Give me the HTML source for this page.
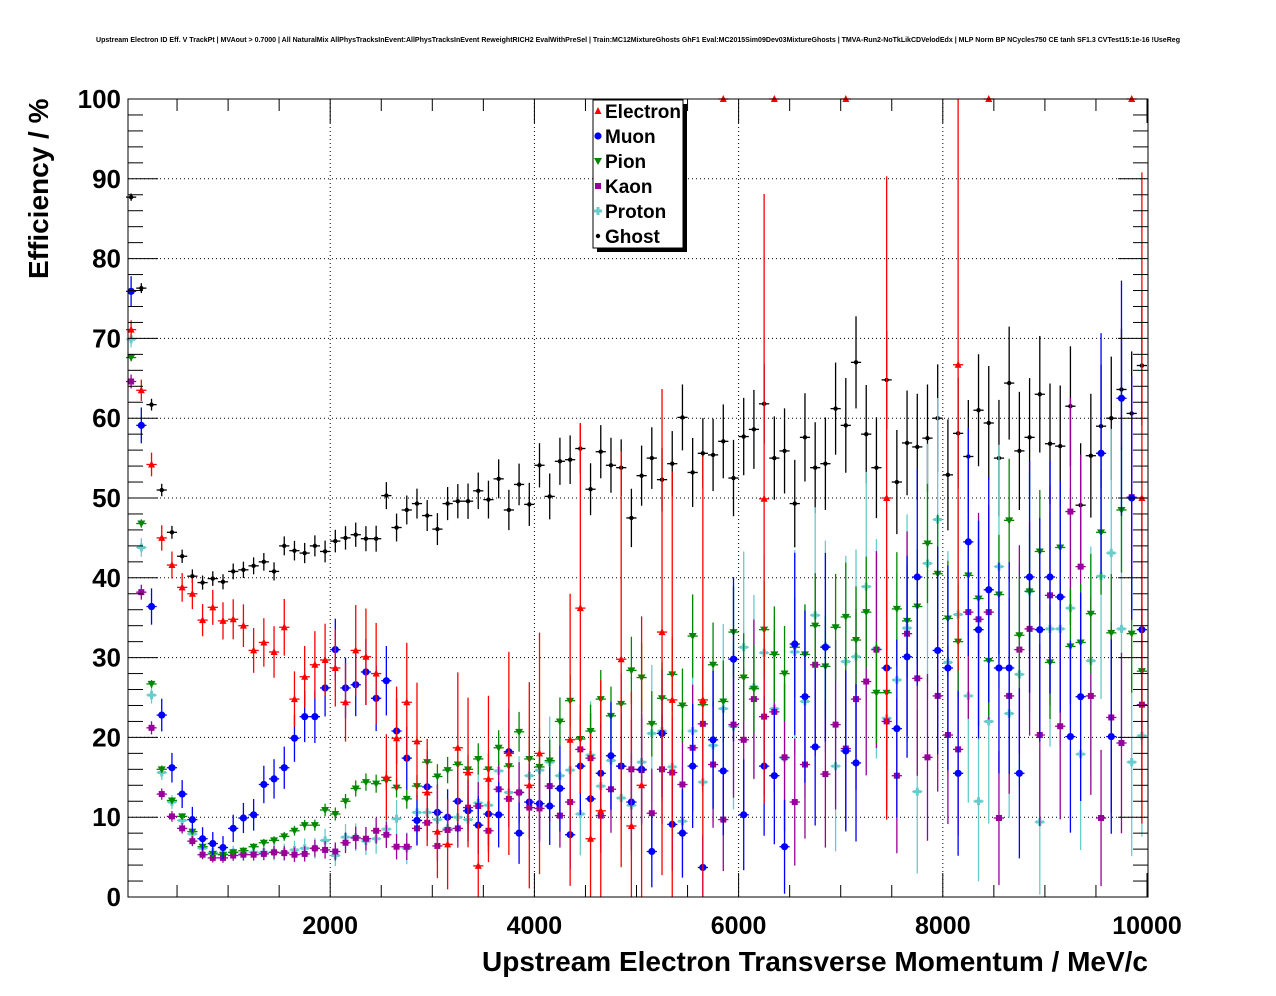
<!DOCTYPE html>
<html><head><meta charset="utf-8">
<style>
html,body{margin:0;padding:0;background:#fff;}
svg{display:block;font-family:"Liberation Sans",Arial,sans-serif;}
</style></head>
<body>
<svg id="chart" width="1276" height="996" viewBox="0 0 1276 996">
<rect x="0" y="0" width="1276" height="996" fill="#fff"/>
<text x="638" y="42" font-size="7.2" font-weight="bold" text-anchor="middle" textLength="1084" lengthAdjust="spacingAndGlyphs">Upstream Electron ID Eff. V TrackPt | MVAout &gt; 0.7000 | All NaturalMix AllPhysTracksInEvent:AllPhysTracksInEvent ReweightRICH2 EvalWithPreSel | Train:MC12MixtureGhosts GhF1 Eval:MC2015Sim09Dev03MixtureGhosts | TMVA-Run2-NoTkLikCDVelodEdx | MLP Norm BP NCycles750 CE tanh SF1.3 CVTest15:1e-16 !UseReg</text>
<g id="grid"></g>
<g id="marks"></g>
<g id="axes"></g>
<text transform="translate(48,279) rotate(-90)" font-size="28" font-weight="bold">Efficiency / %</text>
<text x="1148" y="971" font-size="28" font-weight="bold" text-anchor="end">Upstream Electron Transverse Momentum / MeV/c</text>
<g id="legend"></g>
</svg>
<script>
const binCenters = [];
for (let i = 0; i < 100; i++) binCenters.push(50 + 100 * i);
const xTicks = [2000, 4000, 6000, 8000, 10000];
const yTicks = [0, 10, 20, 30, 40, 50, 60, 70, 80, 90, 100];
const seriesNames = ["Electron", "Muon", "Pion", "Kaon", "Proton", "Ghost"];
const electron = [71.1,63.5,54.2,45.0,41.6,38.8,38.0,34.7,36.3,34.6,34.8,34.0,30.9,31.9,30.7,33.8,24.8,27.6,29.1,29.7,28.7,24.4,30.9,30.1,28.0,15.0,19.9,24.4,19.5,13.1,8.2,6.6,18.7,
15.6,3.9,14.8,null,18.0,null,14.0,18.0,null,null,19.7,36.2,7.3,10.8,null,29.8,8.9,14.0,null,33.2,24.7,null,null,24.7,null,100,null,null,null,49.9,100,null,
null,null,null,null,null,100,null,null,null,50,null,null,null,null,null,null,66.7,null,null,100,null,null,null,null,null,null,null,null,null,null,null,null,null,100,50];
const muon = [75.9,59.1,36.4,22.8,16.2,12.9,9.7,7.3,6.7,6.2,8.6,9.9,10.3,14.1,14.8,16.2,19.9,22.6,22.6,26.2,31.0,26.2,26.6,28.2,24.9,27.1,20.8,17.4,9.6,13.8,10.6,10.0,12.0,
10.8,9.0,10.4,10.3,18.2,8.0,11.9,11.7,11.4,13.6,7.8,16.4,12.3,15.5,17.7,16.4,11.9,16.0,5.7,20.5,9.1,8.0,16.4,3.7,19.7,15.8,29.8,10.3,null,16.4,15.2,6.3,
31.7,25.1,18.8,31.3,null,18.3,16.8,null,null,28.7,21.1,30.1,40.1,null,30.9,28.7,15.5,44.5,33.5,38.5,28.7,28.7,15.5,40.1,33.5,40.1,37.6,20.1,25.1,null,55.6,20.1,62.5,50.0,33.5];
const pion = [67.6,46.8,26.7,16.0,12.1,10.1,8.2,6.3,5.4,5.3,5.6,5.8,6.3,6.8,7.1,7.6,8.3,9.0,9.0,10.9,10.4,12.0,13.6,14.4,14.2,14.6,13.7,12.3,13.9,16.9,15.1,15.9,16.6,
16.0,17.3,16.0,18.7,16.4,20.7,17.3,16.3,17.1,22.0,24.6,19.8,20.8,24.8,22.7,24.2,28.4,27.5,21.7,24.9,27.9,24.0,32.7,24.1,29.1,24.5,33.2,27.5,26.1,33.5,30.4,28.0,
31.3,30.4,34.0,28.9,33.8,35.1,32.2,35.7,25.6,25.6,36.1,34.6,36.4,44.3,40.5,34.9,32.0,40.3,37.4,29.6,37.9,47.2,32.8,38.3,43.3,29.4,43.8,31.4,31.9,35.5,45.7,33.1,48.5,33.0,28.3];
const kaon = [64.6,38.2,21.2,12.9,10.1,8.6,7.0,5.3,4.9,4.9,5.2,5.3,5.3,5.4,5.6,5.5,5.3,5.4,6.1,5.9,5.7,6.8,7.4,7.3,8.3,7.8,6.3,6.3,8.6,9.3,6.4,8.4,8.6,
11.2,11.4,8.3,13.5,12.3,13.1,11.2,11.1,13.9,10.2,11.9,18.5,17.4,10.2,13.5,16.4,16.0,15.9,10.5,16.0,15.6,14.1,18.7,21.7,16.6,9.7,21.6,19.7,24.8,22.6,23.2,17.5,
11.9,16.6,29.1,15.4,21.6,18.6,24.8,27.0,31.0,22.0,15.2,33.0,27.4,17.5,25.2,20.3,18.5,35.7,34.8,35.7,9.9,25.2,31.0,33.6,20.3,37.8,21.4,48.3,41.4,25.2,9.9,22.5,19.3,50.1,24.1];
const proton = [69.9,43.8,25.3,15.6,11.9,9.6,7.9,6.1,5.6,5.4,5.6,5.4,5.6,5.6,5.6,5.6,5.9,6.1,6.1,7.1,5.2,7.5,7.5,7.0,7.3,8.5,9.8,6.1,10.6,10.6,9.7,8.6,10.0,
9.7,11.8,11.5,15.8,13.1,13.1,15.2,15.9,16.9,15.2,15.9,10.4,17.8,13.9,17.1,12.4,11.5,16.9,20.5,20.8,16.3,9.5,20.8,14.4,19.0,23.6,21.4,31.3,26.3,30.6,23.6,17.4,
30.7,24.5,35.3,31.4,16.4,29.5,30.1,38.9,31.1,22.4,27.2,33.7,13.2,41.8,47.3,29.4,35.4,25.2,12.0,22.0,41.4,23.0,27.9,38.3,9.4,33.6,33.6,36.2,17.9,29.6,40.2,43.1,33.6,16.9,20.2];
const ghost = [87.7,76.3,61.7,51.0,45.7,42.7,40.2,39.4,39.9,39.5,40.8,41.0,41.5,42.0,40.8,44.0,43.4,43.1,44.0,43.3,44.6,45.0,45.4,44.9,44.9,50.3,46.3,48.5,49.3,47.8,46.1,49.3,49.6,
49.6,50.9,49.8,52.4,48.5,51.7,49.2,54.1,50.2,54.6,54.8,56.2,51.1,55.8,54.1,53.8,47.5,52.8,55.0,52.3,54.3,60.1,53.2,55.6,55.4,57.1,52.5,57.7,58.6,61.8,55.0,55.9,
49.3,57.6,53.8,54.3,61.2,59.1,67.0,58.0,53.8,64.8,52.0,56.9,56.4,57.5,60.0,52.9,58.1,55.2,61.0,59.4,55.0,64.4,55.9,57.6,63.0,56.8,56.5,61.5,49.1,55.3,59.0,60.0,63.6,60.6,66.6];

const NS = "http://www.w3.org/2000/svg";
const X0 = 128, X1 = 1148, Y0 = 897, Y1 = 99;
function xs(v){ return 126 + v * 0.1021; }
function ys(v){ return Y0 - (v / 100) * (Y0 - Y1); }
function mk(tag, attrs, parent){ const e = document.createElementNS(NS, tag); for (const k in attrs) e.setAttribute(k, attrs[k]); parent.appendChild(e); return e; }

const grid = document.getElementById('grid');
for (let t = 10; t < 100; t += 10) {
  const l = mk('line', {x1:X0, x2:X1, y1:ys(t), y2:ys(t), stroke:'#000', 'stroke-width':1, 'stroke-dasharray':'1 3'}, grid);
  
  
}
for (const t of xTicks.slice(0, 4)) {
  const l = mk('line', {x1:xs(t), x2:xs(t), y1:Y1, y2:Y0, stroke:'#000', 'stroke-width':1, 'stroke-dasharray':'1 3'}, grid);
  
  
}

const styles = [
  {c:'#ff0000', shape:'tri', A:1500, tau:7, B:1.5},
  {c:'#0000ff', shape:'circ', A:500, tau:15, B:10},
  {c:'#008800', shape:'tridown', A:10000, tau:10, B:40},
  {c:'#990099', shape:'sq', A:3000, tau:10, B:12},
  {c:'#66cccc', shape:'cross', A:2000, tau:10, B:10},
  {c:'#000000', shape:'dot', A:5000, tau:14, B:35}
];
const allSeries = [electron, muon, pion, kaon, proton, ghost];
function marker(shape, x, y, c, parent){
  if (shape==='tri') return mk('polygon', {points:`${x},${y-4} ${x-3.5},${y+3} ${x+3.5},${y+3}`, fill:c}, parent);
  if (shape==='tridown') return mk('polygon', {points:`${x},${y+4} ${x-4},${y-3} ${x+4},${y-3}`, fill:c}, parent);
  if (shape==='circ') return mk('circle', {cx:x, cy:y, r:3.6, fill:c}, parent);
  if (shape==='sq') return mk('rect', {x:x-3, y:y-3, width:6, height:6, fill:c}, parent);
  if (shape==='cross') return mk('path', {d:`M${x-1.5},${y-4}h3v2.5h2.5v3h-2.5v2.5h-3v-2.5h-2.5v-3h2.5z`, fill:c}, parent);
  return mk('circle', {cx:x, cy:y, r:2.2, fill:c}, parent);
}
const marks = document.getElementById('marks');
const order = [5, 4, 3, 2, 1, 0];
for (const s of order) {
  const st = styles[s], vals = allSeries[s];
  const g = mk('g', {}, marks);
  
  
  vals.forEach((v, i) => {
    if (v === null) return;
    const n = st.A * Math.exp(-i / st.tau) + st.B;
    const err = v >= 99.9 ? 0 : 100 * Math.sqrt(Math.max(v * (100 - v), 100) / 10000 / n);
    const x = xs(binCenters[i]), y = ys(v);
    if (err > 0) mk('line', {x1:x, x2:x, y1:ys(Math.min(100, v + err)), y2:ys(Math.max(0, v - err)), stroke:st.c, 'stroke-width':1.3}, g);
    mk('line', {x1:xs(binCenters[i] - 50), x2:xs(binCenters[i] + 50), y1:y, y2:y, stroke:st.c, 'stroke-width':1.3}, g);
    const m = marker(st.shape, x, y, st.c, g);
    
    
  });
}

const axes = document.getElementById('axes');
mk('rect', {x:X0, y:Y1, width:X1 - X0, height:Y0 - Y1, fill:'none', stroke:'#000', 'stroke-width':1}, axes);
for (let t = 0; t <= 100; t += 2) {
  const major = t % 10 === 0;
  const len = major ? 30 : 15;
  mk('line', {x1:X0, x2:X0 + len, y1:ys(t), y2:ys(t), stroke:'#000'}, axes);
  mk('line', {x1:X1, x2:X1 - len, y1:ys(t), y2:ys(t), stroke:'#000'}, axes);
}
for (const t of yTicks) {
  const tx = mk('text', {x:121, y:ys(t) + 9, 'font-size':26, 'font-weight':'bold', 'text-anchor':'end'}, axes);
  tx.textContent = String(t);
  
  
}
for (let t = 500; t <= 10000; t += 500) {
  const major = t % 2000 === 0;
  const len = major ? 24 : 12;
  mk('line', {x1:xs(t), x2:xs(t), y1:Y0, y2:Y0 - len, stroke:'#000'}, axes);
  mk('line', {x1:xs(t), x2:xs(t), y1:Y1, y2:Y1 + len, stroke:'#000'}, axes);
}
for (const t of xTicks) {
  const tx = mk('text', {x:xs(t), y:934, 'font-size':25, 'font-weight':'bold', 'text-anchor':'middle'}, axes);
  tx.textContent = String(t);
  
  
}

const legend = document.getElementById('legend');
mk('rect', {x:597, y:104, width:90, height:148, fill:'#000'}, legend);
mk('rect', {x:593, y:100, width:90, height:148, fill:'#fff', stroke:'#000'}, legend);
seriesNames.forEach((nm, k) => {
  const y = 111 + 25 * k;
  const g = mk('g', {}, legend);
  
  
  marker(styles[k].shape, 598, y, styles[k].c, g);
  const tx = mk('text', {x:605, y:y + 7, 'font-size':19, 'font-weight':'bold'}, g);
  tx.textContent = nm;
});
</script>
</body></html>
